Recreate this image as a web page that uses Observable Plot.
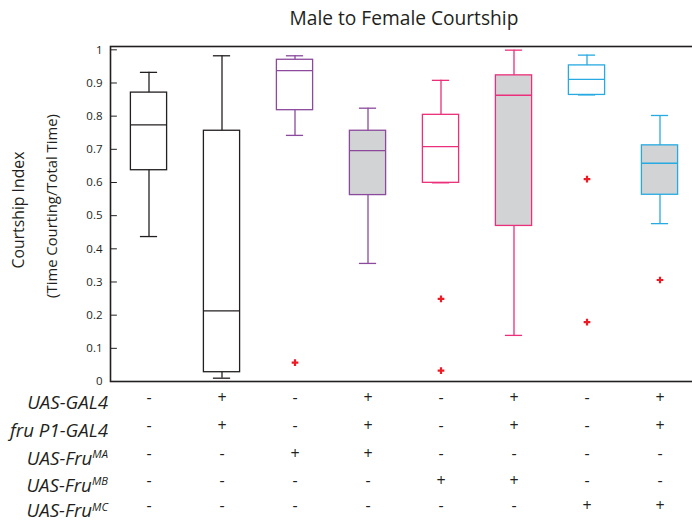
<!DOCTYPE html>
<html><head><meta charset="utf-8">
<script src="https://cdn.jsdelivr.net/npm/d3@7"></script>
<script src="https://cdn.jsdelivr.net/npm/@observablehq/plot@0.6"></script>
<style>body{margin:0;background:#fff} #chart svg{display:block}</style>
</head><body><div id="chart"></div>
<script>
// ---- data ----
const groups = ["1", "2", "3", "4", "5", "6", "7", "8"];
const whiskerLow  = [0.437, 0.010, 0.742, 0.356, 0.599, 0.139, 0.864, 0.476];
const q1          = [0.637, 0.028, 0.818, 0.562, 0.599, 0.469, 0.864, 0.563];
const median      = [0.774, 0.213, 0.937, 0.696, 0.708, 0.863, 0.911, 0.658];
const q3          = [0.871, 0.756, 0.970, 0.756, 0.804, 0.923, 0.953, 0.712];
const whiskerHigh = [0.932, 0.982, 0.982, 0.824, 0.908, 0.999, 0.984, 0.802];
const outlierGroup = ["3", "5", "5", "7", "7", "8"];
const outlierValue = [0.057, 0.249, 0.033, 0.610, 0.179, 0.306];
const yTicks = [0, 0.1, 0.2, 0.3, 0.4, 0.5, 0.6, 0.7, 0.8, 0.9, 1];
const title = "Male to Female Courtship";
const yLabel1 = "Courtship Index";
const yLabel2 = "(Time Courting/Total Time)";
const rowLabels = ["UAS-GAL4", "fru P1-GAL4", "UAS-Fru", "UAS-Fru", "UAS-Fru"];
const rowSups   = ["", "", "MA", "MB", "MC"];
const signs = [
  ["-", "+", "-", "+", "-", "+", "-", "+"],
  ["-", "+", "-", "+", "-", "+", "-", "+"],
  ["-", "-", "+", "+", "-", "-", "-", "-"],
  ["-", "-", "-", "-", "+", "+", "-", "-"],
  ["-", "-", "-", "-", "-", "-", "+", "+"]
];

// ---- styles ----
const INK = "#231f20";
const groupStroke = ["#231f20", "#231f20", "#8b4a9c", "#8b4a9c", "#ec2f7b", "#ec2f7b", "#27aae1", "#27aae1"];
const groupFill   = ["#ffffff", "#ffffff", "#ffffff", "#d1d3d4", "#ffffff", "#d1d3d4", "#ffffff", "#d1d3d4"];
const rowOffsets = [21.7, 49, 77.3, 104, 129.7];
const FONT = "Open Sans";

const boxes = groups.map((g, i) => ({
  group: g, lo: whiskerLow[i], q1: q1[i], med: median[i], q3: q3[i], hi: whiskerHigh[i],
  stroke: groupStroke[i], fill: groupFill[i]
}));
const outliers = outlierGroup.map((g, i) => ({group: g, value: outlierValue[i]}));

const tickShape = {draw(context, l) { context.moveTo(0, 0); context.lineTo(0, -l); }};
const SW = 1.3;

const plot = Plot.plot({
  width: 692, height: 527,
  marginLeft: 110, marginRight: -6, marginTop: 46, marginBottom: 146,
  style: {fontFamily: FONT, background: "white", color: INK},
  x: {type: "band", domain: groups, padding: 0, axis: null},
  y: {domain: [0, 1.01], axis: null},
  marks: [
    Plot.ruleX(boxes, {x: "group", y1: "lo", y2: "hi", stroke: "stroke", strokeWidth: SW}),
    Plot.tickY(boxes, {x: "group", y: "lo", stroke: "stroke", strokeWidth: SW, insetLeft: 27.9, insetRight: 27.9}),
    Plot.tickY(boxes, {x: "group", y: "hi", stroke: "stroke", strokeWidth: SW, insetLeft: 27.9, insetRight: 27.9}),
    Plot.barY(boxes, {x: "group", y1: "q1", y2: "q3", fill: "fill", stroke: "stroke", strokeWidth: SW, insetLeft: 18.4, insetRight: 18.4}),
    Plot.tickY(boxes, {x: "group", y: "med", stroke: "stroke", strokeWidth: SW, insetLeft: 18.4, insetRight: 18.4}),
    Plot.dot(outliers, {x: "group", y: "value", symbol: "cross", r: 2.8, fill: "#ed1c24", stroke: "none"}),
    Plot.frame({stroke: INK, strokeWidth: 1.6}),
    Plot.vector(yTicks, {y: d => d, frameAnchor: "left", length: 6, rotate: 90, anchor: "start", shape: tickShape, stroke: INK, strokeWidth: 1}),
    Plot.text(yTicks, {y: d => d, frameAnchor: "left", dx: -8, textAnchor: "end", text: d => String(d), fontSize: 11.5, fill: INK}),
    ...signs.map((row, ri) => Plot.text(groups, {
      x: d => d, frameAnchor: "bottom", dy: rowOffsets[ri],
      text: (d, i) => row[i], fontSize: 16, fill: INK
    }))
  ]
});
document.getElementById("chart").appendChild(plot);

const svg = d3.select(plot);
function fit(sel, target, base) {
  const w = sel.node().getComputedTextLength();
  const s = w > 0 ? base * target / w : base;
  sel.attr("font-size", s);
  return s;
}
const t0 = svg.append("text").attr("x", 404).attr("y", 25).attr("text-anchor", "middle")
  .attr("font-family", FONT).attr("font-size", 16).attr("fill", INK).text(title);
fit(t0, 229, 16);
const t1 = svg.append("text").attr("transform", "translate(24,210) rotate(-90)").attr("text-anchor", "middle")
  .attr("font-family", FONT).attr("font-size", 15).attr("fill", INK).text(yLabel1);
fit(t1, 117, 15);
const t2 = svg.append("text").attr("transform", "translate(57,206) rotate(-90)").attr("text-anchor", "middle")
  .attr("font-family", FONT).attr("font-size", 14).attr("fill", INK).text(yLabel2);
fit(t2, 184, 14);

const probe = svg.append("text").attr("font-family", FONT).attr("font-size", 16)
  .attr("font-style", "italic").text(rowLabels[1]);
const rowSize = fit(probe, 98, 16);
probe.remove();
rowLabels.forEach((lab, ri) => {
  const t = svg.append("text").attr("x", 108).attr("y", 381 + rowOffsets[ri])
    .attr("dy", "0.35em").attr("text-anchor", "end")
    .attr("font-family", FONT).attr("font-size", rowSize).attr("font-style", "italic").attr("fill", INK);
  t.append("tspan").text(lab);
  if (rowSups[ri]) {
    t.append("tspan").attr("font-size", rowSize * 0.6).attr("dy", "-0.6em").text(rowSups[ri]);
  }
});
</script>
</body></html>
